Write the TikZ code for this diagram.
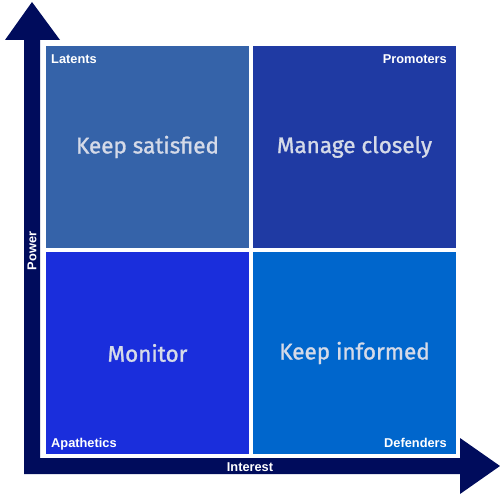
\documentclass[tikz,border=0pt]{standalone}
\usepackage{fontspec}
\setmainfont{Liberation Sans}
\newfontfamily\chalkfont[FakeBold=1.2]{Fira Sans}
\definecolor{navy}{HTML}{000C5C}
\definecolor{qtl}{HTML}{3563A9}
\definecolor{qtr}{HTML}{1F3AA3}
\definecolor{qbl}{HTML}{1A2EDC}
\definecolor{qbr}{HTML}{0066CC}
\definecolor{chalk}{HTML}{D5DAE8}
\begin{document}
\begin{tikzpicture}[x=1pt,y=-1pt,
  quad/.style={inner sep=0pt,outer sep=0pt,minimum width=203pt,minimum height=202pt},
  corner/.style={text=white,font=\fontsize{12.8}{14}\selectfont\bfseries,inner sep=0pt},
  big/.style={text=chalk,font=\chalkfont\fontsize{22.5}{26}\selectfont},
  axislabel/.style={text=white,font=\fontsize{12.8}{14}\selectfont\bfseries,inner sep=0pt}]
\useasboundingbox (0,0) rectangle (500,500);
% axes
\fill[navy] (24,474) -- (24,40) -- (5,40) -- (32,2) -- (60,40) -- (40,40) -- (40,458)
  -- (460,458) -- (460,438) -- (500,466) -- (460,494) -- (460,474) -- cycle;
% quadrants
\node[quad,fill=qtl,anchor=north west] (tl) at (46,46) {};
\node[quad,fill=qtr,anchor=north west] (tr) at (253,46) {};
\node[quad,fill=qbl,anchor=north west] (bl) at (46,252) {};
\node[quad,fill=qbr,anchor=north west] (br) at (253,252) {};
\node[corner,anchor=base west] (lat) at (51,64) {Latents};
\node[corner,anchor=base east] (pro) at (447,64) {Promoters};
\node[corner,anchor=base west] (apa) at (51,447) {Apathetics};
\node[corner,anchor=base east] (def) at (447,447) {Defenders};
\node[big] (ks) at (tl.center) {Keep satisfied};
\node[big] (mc) at (tr.center) {Manage closely};
\node[big] (mo) at (bl.center) {Monitor};
\node[big] (ki) at (br.center) {Keep informed};
\node[axislabel] (int) at (250,467) {Interest};
\node[axislabel,rotate=90] (pow) at (32,251) {Power};
\end{tikzpicture}
\end{document}
